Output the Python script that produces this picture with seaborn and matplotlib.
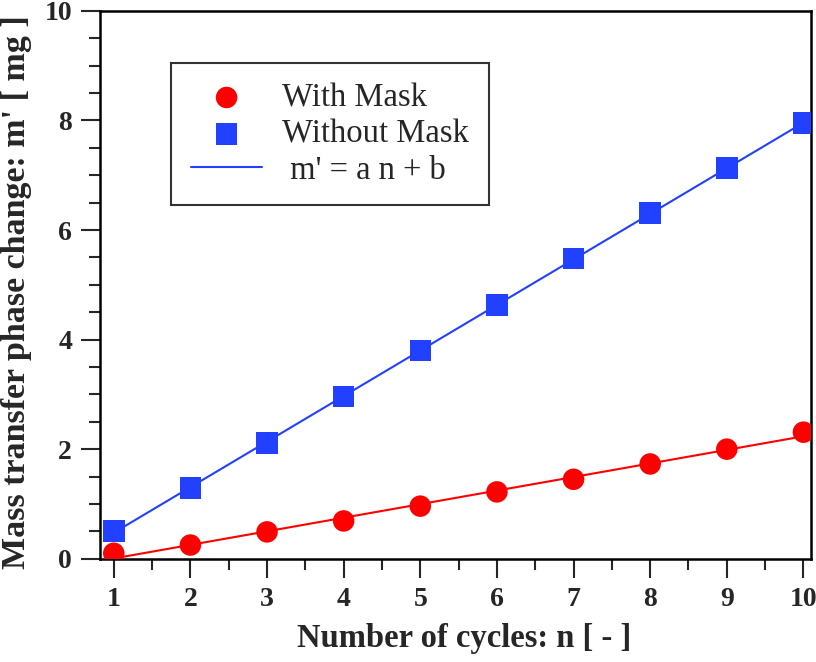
import numpy as np
import matplotlib.pyplot as plt
import seaborn as sns
from matplotlib.ticker import MultipleLocator

# Mass transfer vs number of cycles, with and without mask
sns.set_style("ticks")
plt.rcParams['font.family'] = ['Liberation Serif', 'DejaVu Serif']

cycles = [1, 2, 3, 4, 5, 6, 7, 8, 9, 10]
with_mask = [0.10, 0.25, 0.49, 0.69, 0.96, 1.22, 1.45, 1.73, 2.00, 2.31]
without_mask = [0.51, 1.29, 2.11, 2.96, 3.80, 4.63, 5.48, 6.31, 7.13, 7.95]

red = '#ff0000'
blue = '#2240ff'

fig, ax = plt.subplots(figsize=(8.16, 6.62), dpi=100)
fig.subplots_adjust(left=0.1225, right=0.994, bottom=0.156, top=0.9835)

n = np.array(cycles)

# linear fits m' = a n + b
a1, b1 = np.polyfit(n, with_mask, 1)
a2, b2 = np.polyfit(n, without_mask, 1)
sns.lineplot(x=n, y=a1 * n + b1, color=red, lw=1.5, ax=ax, label='_nolegend_')
sns.lineplot(x=n, y=a2 * n + b2, color=blue, lw=1.5, ax=ax, label=" m' = a n + b")

# data points
sns.scatterplot(x=cycles, y=with_mask, marker='o', s=240, color=red,
                edgecolor='none', zorder=3, ax=ax, label='With Mask')
sns.scatterplot(x=cycles, y=without_mask, marker='s', s=240, color=blue,
                edgecolor='none', zorder=3, ax=ax, label='Without Mask')

ax.set_xlim(0.82, 10.1)
ax.set_ylim(0, 10)
ax.set_xticks(cycles)
ax.xaxis.set_minor_locator(MultipleLocator(0.5))
ax.set_yticks([0, 2, 4, 6, 8, 10])
ax.yaxis.set_minor_locator(MultipleLocator(0.5))
ax.tick_params(which='major', direction='out', length=14, width=1.5,
               labelsize=20, pad=6)
ax.tick_params(which='minor', direction='out', length=8, width=1.5)
for lab in ax.get_xticklabels() + ax.get_yticklabels():
    lab.set_fontweight('bold')

for sp in ax.spines.values():
    sp.set_linewidth(1.8)
    sp.set_color('black')

ax.set_xlabel('Number of cycles: n [ - ]', fontsize=23.5, fontweight='bold')
ax.set_ylabel("Mass transfer phase change: m' [ mg ]", fontsize=24.5, fontweight='bold')
ax.xaxis.set_label_coords(0.512, -0.118)
ax.yaxis.set_label_coords(-0.095, 0.486)

# legend order: With Mask, Without Mask, fit line
handles, labels = ax.get_legend_handles_labels()
order = [labels.index('With Mask'), labels.index('Without Mask'), labels.index(" m' = a n + b")]
leg = ax.legend([handles[i] for i in order], [labels[i] for i in order],
                loc='upper left', bbox_to_anchor=(0.10, 0.905),
                fontsize=23.5, frameon=True, fancybox=False, edgecolor='black',
                handlelength=2.2, handletextpad=0.6, labelspacing=0.18,
                borderpad=0.6, borderaxespad=0)
leg.get_frame().set_linewidth(1.5)

fig.savefig('out.png', dpi=100)
